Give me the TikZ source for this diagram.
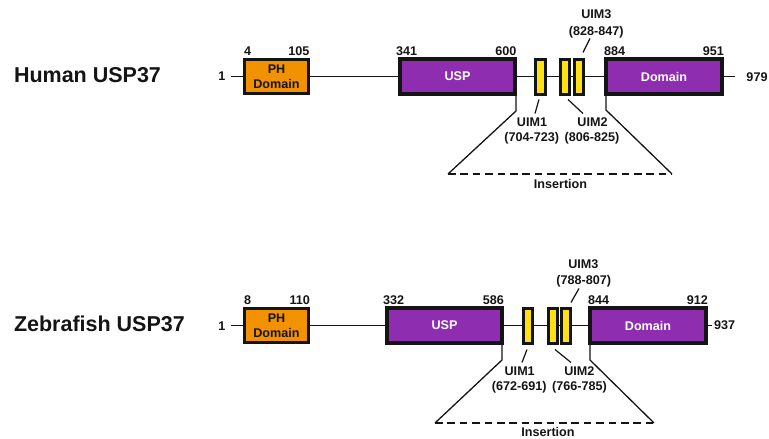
\documentclass[tikz,border=0pt]{standalone}
\usepackage{fontspec}
\setmainfont{Liberation Sans}
\definecolor{phorange}{HTML}{F39200}
\definecolor{usppurple}{HTML}{8E2DB0}
\definecolor{uimyellow}{HTML}{FFE015}
\definecolor{ink}{HTML}{141414}
\begin{document}
\begin{tikzpicture}[x=1pt,y=-1pt,
  box/.style={draw=ink, inner sep=0, outer sep=0, line width=3pt},
  phbox/.style={box, fill=phorange, minimum width=64pt, minimum height=34pt, align=center,
    font=\fontsize{12.6}{15.5}\selectfont\bfseries, text=ink},
  uspbox/.style={box, fill=usppurple, line width=4pt, minimum height=35pt, minimum width=115pt,
    font=\fontsize{12.6}{15}\selectfont\bfseries, text=white},
  uimbox/.style={box, fill=uimyellow, minimum width=9pt, minimum height=35pt},
  lbl/.style={inner sep=0, outer sep=0, font=\fontsize{12.6}{15}\selectfont\bfseries, text=ink},
  ttl/.style={inner sep=0, outer sep=0, font=\fontsize{21.5}{26}\selectfont\bfseries, text=ink, anchor=base west},
  seq/.style={draw=ink, line width=1.3pt},
  lead/.style={draw=ink, line width=1.2pt},
  ins/.style={draw=ink, line width=1.3pt},
  dsh/.style={draw=ink, line width=1.3pt, dash pattern=on 7.6pt off 4.8pt}]
\useasboundingbox (0,0) rectangle (769,439);

% ---------------- Human ----------------
\node[ttl] (t1) at (14,82) {Human USP37};
\node[lbl, anchor=base] (one1) at (222,80.5) {1};
\coordinate (s1) at (231,76.5);
\coordinate (e1) at (735,76.5);
\node[lbl, anchor=base] (end1) at (757,81) {979};

\draw[seq] (s1) -- (e1);
\node[phbox] (ph1) at (276.5,76.5) {PH\\Domain};
\node[uspbox] (usp1) at (457.5,76.5) {USP};
\node[uimbox, minimum width=10pt] (ua1) at (540.5,76.5) {};
\node[uimbox] (ub1) at (565,76.5) {};
\node[uimbox] (uc1) at (578.5,76.5) {};
\node[uspbox, minimum width=116pt] (dom1) at (664,76.5) {Domain};

\node[lbl, anchor=base west] at (244,55) {4};
\node[lbl, anchor=base east] at (309.5,55) {105};
\node[lbl, anchor=base west] at (396,55) {341};
\node[lbl, anchor=base east] at (516.5,55) {600};
\node[lbl, anchor=base west] at (604,55) {884};
\node[lbl, anchor=base east] at (724,55) {951};

\node[lbl, anchor=base] (l1a) at (532,126) {UIM1};
\node[lbl, anchor=base] (l1b) at (531.7,141.7) {(704-723)};
\node[lbl, anchor=base] (l2a) at (592.5,126) {UIM2};
\node[lbl, anchor=base] (l2b) at (592,141.7) {(806-825)};
\node[lbl, anchor=base] (l3a) at (596.3,19) {UIM3};
\node[lbl, anchor=base] (l3b) at (596.2,35) {(828-847)};

\draw[lead] ([shift={(-1.5,5.5)}]ua1.south) -- ++(-4,14);
\draw[lead] ([shift={(3,5.5)}]ub1.south) -- ++(15,14);
\draw[lead] ([shift={(4.5,-6.5)}]uc1.north) -- ++(7,-14);

\coordinate (insL1) at (448,174);
\coordinate (insR1) at (672,174);
\draw[ins] ([shift={(1,2)}]usp1.south east) -- ++(0,15) -- (insL1);
\draw[ins] ([shift={(0,2)}]dom1.south west) -- ++(0,14) -- (insR1);
\draw[dsh] (insL1) -- (insR1);
\node[lbl, anchor=base] (ins1) at (560.5,188) {Insertion};

% ---------------- Zebrafish ----------------
\node[ttl] (t2) at (14,331.5) {Zebrafish USP37};
\node[lbl, anchor=base] (one2) at (222,330) {1};
\coordinate (s2) at (231,325.5);
\coordinate (e2) at (712,325.5);
\node[lbl, anchor=base] (end2) at (724.7,329.5) {937};

\draw[seq] (s2) -- (e2);
\node[phbox] (ph2) at (276.5,325.5) {PH\\Domain};
\node[uspbox] (usp2) at (444.5,325.5) {USP};
\node[uimbox] (ua2) at (528,325.5) {};
\node[uimbox] (ub2) at (552.5,325.5) {};
\node[uimbox] (uc2) at (566,325.5) {};
\node[uspbox, minimum width=116pt] (dom2) at (648,325.5) {Domain};

\node[lbl, anchor=base west] at (244,304) {8};
\node[lbl, anchor=base east] at (310,304) {110};
\node[lbl, anchor=base west] at (383,304) {332};
\node[lbl, anchor=base east] at (504,304) {586};
\node[lbl, anchor=base west] at (588,304) {844};
\node[lbl, anchor=base east] at (708,304) {912};

\node[lbl, anchor=base] (m1a) at (519.7,375) {UIM1};
\node[lbl, anchor=base] (m1b) at (519.3,390.5) {(672-691)};
\node[lbl, anchor=base] (m2a) at (579.3,375) {UIM2};
\node[lbl, anchor=base] (m2b) at (579.5,390.5) {(766-785)};
\node[lbl, anchor=base] (m3a) at (583.3,268.3) {UIM3};
\node[lbl, anchor=base] (m3b) at (583.7,284) {(788-807)};

\draw[lead] ([shift={(-1,6.5)}]ua2.south) -- ++(-5,13);
\draw[lead] ([shift={(2.5,6.5)}]ub2.south) -- ++(16,13);
\draw[lead] ([shift={(5,-5.5)}]uc2.north) -- ++(8,-14);

\coordinate (insL2) at (435,423);
\coordinate (insR2) at (654,423);
\draw[ins] ([shift={(0,2)}]usp2.south east) -- ++(0,15) -- (insL2);
\draw[ins] ([shift={(0,2)}]dom2.south west) -- ++(0,15) -- (insR2);
\draw[dsh] (insL2) -- (insR2);
\node[lbl, anchor=base] (ins2) at (548,436.7) {Insertion};
\end{tikzpicture}
\end{document}
